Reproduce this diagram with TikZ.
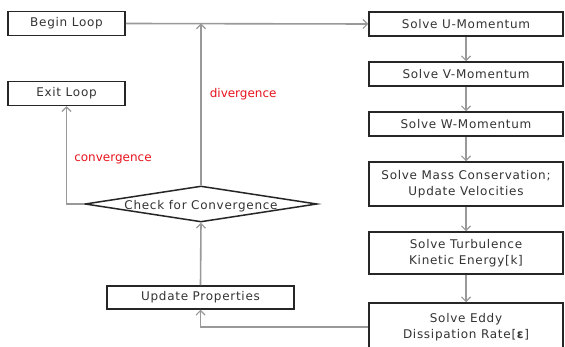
\documentclass[tikz,border=0pt]{standalone}
\usepackage{fontspec}
\setmainfont{DejaVu Sans}
\usepackage{xcolor}
\usepackage{tikz}
\usetikzlibrary{arrows.meta,calc,shapes.geometric}
\definecolor{boxtext}{HTML}{333333}
\definecolor{flowline}{HTML}{999999}
\definecolor{flagred}{HTML}{E8141E}
\newfontfamily\boxfont[LetterSpace=6]{DejaVu Sans}
\tikzset{
  stepbox/.style={
    draw=black!85,
    line width=1.5pt,
    fill=white,
    align=center,
    text=boxtext,
    font=\boxfont\fontsize{12}{16.5}\selectfont,
    inner sep=0pt,
    minimum height=24pt
  },
  sidebox/.style={stepbox, minimum width=117pt},
  solvebox/.style={stepbox, minimum width=194pt},
  decision/.style={
    diamond,
    draw=black!85,
    line width=1.5pt,
    fill=white,
    inner sep=0pt,
    minimum width=232pt,
    minimum height=36pt
  },
  flow/.style={line width=1.6pt, draw=flowline, -{Straight Barb[length=4.5pt, width=9pt, line width=1.2pt]}},
  flag/.style={font=\fontsize{12}{14}\selectfont, text=flagred, inner sep=0pt}
}

\begin{document}
\begin{tikzpicture}[x=1pt,y=-1pt]
\clip (0,0) rectangle (565,347);
\fill[white] (0,0) rectangle (565,347);

\node[sidebox] (begin) at (66.5,23.5) {Begin Loop};
\node[sidebox] (exit) at (66.5,93.5) {Exit Loop};

\node[solvebox] (umom) at (466,24) {Solve U-Momentum};
\node[solvebox] (vmom) at (466,74) {Solve V-Momentum};
\node[solvebox] (wmom) at (466,124) {Solve W-Momentum};
\node[solvebox, minimum height=44pt] (mass) at (466,184) {Solve Mass Conservation;\\Update Velocities};
\node[solvebox, minimum height=42pt] (turb) at (466,253) {Solve Turbulence\\Kinetic Energy[k]};
\node[solvebox, minimum height=48pt] (eddy) at (466,327) {Solve Eddy\\Dissipation Rate[\textbf{ε}]};

\node[decision, label={[text=boxtext, font=\boxfont\fontsize{12}{14}\selectfont, yshift=-2pt]center:Check for Convergence}] (check) at (201,204) {};
\node[stepbox, minimum width=187pt, minimum height=23pt] (props) at (200.5,297.5) {Update Properties};

\draw[flow] (begin.east) -- (umom.west);
\draw[flow] (umom) -- (vmom);
\draw[flow] (vmom) -- (wmom);
\draw[flow] (wmom) -- (mass);
\draw[flow] (mass) -- (turb);
\draw[flow] (turb) -- (eddy);
\draw[flow] (eddy.west) -| (props.south);
\draw[flow] (props.north) -- (check.south);
\draw[flow] (check.north) -- node[flag, pos=0.56, right=8pt] {divergence} (check.north |- begin.east);
\draw[flow] (check.west) -| node[flag, pos=0.73, right=7pt] {convergence} (exit.south);

\end{tikzpicture}
\end{document}
